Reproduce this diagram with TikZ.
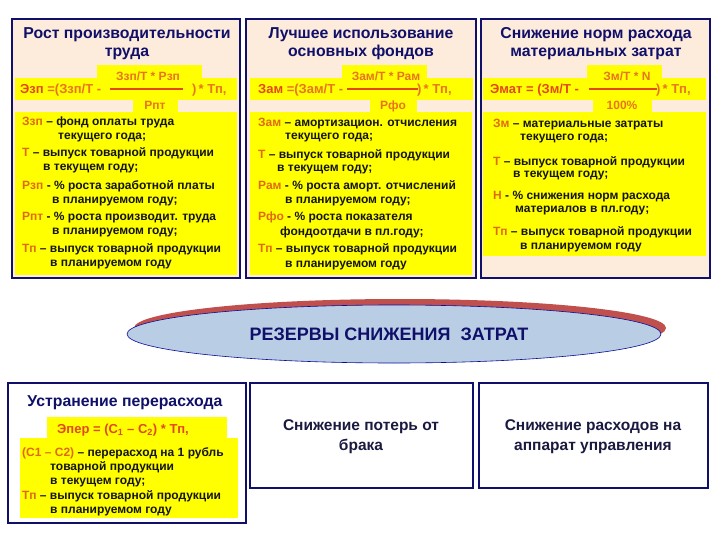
\documentclass[tikz,border=0pt]{standalone}
\usepackage{fontspec}
\setmainfont{Liberation Sans}
\definecolor{navy}{HTML}{10106A}
\definecolor{peach}{HTML}{FDEBDC}
\definecolor{yel}{HTML}{FFFF00}
\definecolor{txt}{HTML}{141414}
\definecolor{fred}{HTML}{E2481A}
\definecolor{forange}{HTML}{E8741E}
\definecolor{vor}{HTML}{E06A10}
\definecolor{ebl}{HTML}{B9CDE5}
\definecolor{esh}{HTML}{C0504D}
\definecolor{btxt}{HTML}{1A1A40}
\newcommand{\vr}[1]{\textcolor{vor}{#1}}
\newcommand{\fo}[1]{\textcolor{forange}{#1}}
\begin{document}
\begin{tikzpicture}[x=1pt,y=-1pt,
  box/.style={draw=navy, line width=2.4pt, inner sep=0, outer sep=0},
  ttl/.style={font=\bfseries\fontsize{15.8}{18}\selectfont, text=navy, align=center, inner sep=0},
  df/.style={font=\bfseries\fontsize{12}{13}\selectfont, text=txt, anchor=base west, inner sep=0},
  fm/.style={font=\bfseries\fontsize{13}{14}\selectfont, text=fred, anchor=base west, inner sep=0},
  fr/.style={font=\bfseries\fontsize{12}{13}\selectfont, text=forange, anchor=base, inner sep=0},
  fline/.style={draw=fred, line width=1.3pt},
  btext/.style={font=\bfseries\fontsize{15.5}{20}\selectfont, text=btxt, align=center, inner sep=0},
]
\useasboundingbox (0,0) rectangle (720,540);
\fill[white] (0,0) rectangle (720,540);

% ---------- top boxes ----------
\node[box, fill=peach, minimum width=228, minimum height=259] (b1) at (126,148.5) {};
\node[box, fill=peach, minimum width=230, minimum height=259] (b2) at (361,148.5) {};
\node[box, fill=peach, minimum width=229, minimum height=259] (b3) at (595.5,148.5) {};

% yellow areas box1
\fill[yel] (15,78) rectangle (237,100);
\fill[yel] (97,65) rectangle (202,78);
\fill[yel] (133,100) rectangle (178,112);
\fill[yel] (15,112) rectangle (237,275);
% yellow areas box2
\fill[yel] (250,78) rectangle (473,100);
\fill[yel] (342,65) rectangle (427,78);
\fill[yel] (370,100) rectangle (417,112);
\fill[yel] (250,112) rectangle (472,275);
% yellow areas box3
\fill[yel] (483,78) rectangle (706,100);
\fill[yel] (587,65) rectangle (662,78);
\fill[yel] (593,100) rectangle (652,112);
\fill[yel] (483,112) rectangle (706,256);

% titles
\node[ttl] (t1) at (127,44) {Рост производительности\\труда};
\node[ttl] (t2) at (361,44) {Лучшее использование\\основных фондов};
\node[ttl] (t3) at (596,44) {Снижение норм расхода\\материальных затрат};

% formula box1
\node[fm] (f1a) at (20,94) {Эзп \fo{=(Ззп/Т -}};
\node[fr] (f1n) at (148,81) {Ззп/Т * Рзп};
\coordinate (f1l) at (110,89); \coordinate (f1r) at (183,89);
\draw[fline] (f1l) -- (f1r);
\node[fr] (f1d) at (155,110) {Рпт};
\node[fm] (f1b) at (192,94) {\fo{)\,* Тп,}};

% formula box2
\node[fm] (f2a) at (258,94) {Зам \fo{=(Зам/Т -}};
\node[fr] (f2n) at (386,81) {Зам/Т * Рам};
\coordinate (f2l) at (347,89); \coordinate (f2r) at (418,89);
\draw[fline] (f2l) -- (f2r);
\node[fr] (f2d) at (393,110) {Рфо};
\node[fm] (f2b) at (417,94) {\fo{)\,* Тп,}};

% formula box3
\node[fm] (f3a) at (490,94) {Эмат = (Зм/Т -};
\node[fr] (f3n) at (627,81) {Зм/Т * N};
\coordinate (f3l) at (589,89); \coordinate (f3r) at (657,89);
\draw[fline] (f3l) -- (f3r);
\node[fr] (f3d) at (622,110) {100\%};
\node[fm] (f3b) at (656,94) {\fo{)\,* Тп,}};

% definitions box1
\node[df] (d11) at (22,126) {\vr{Ззп} – фонд оплаты труда};
\node[df] (d12) at (58,140) {текущего года;};
\node[df] (d13) at (22,157) {\vr{Т} – выпуск товарной продукции};
\node[df] (d14) at (43,171) {в текущем году;};
\node[df] (d15) at (22,190) {\vr{Рзп} - \% роста заработной платы};
\node[df] (d16) at (52,204) {в планируемом году;};
\node[df] (d17) at (22,221) {\vr{Рпт} - \% роста производит. труда};
\node[df] (d18) at (52,235) {в планируемом году;};
\node[df] (d19) at (22,252) {\vr{Тп} – выпуск товарной продукции};
\node[df] (d110) at (50,266) {в планируемом году};

% definitions box2
\node[df] (d21) at (258,127) {\vr{Зам} – амортизацион. отчисления};
\node[df] (d22) at (285,140) {текущего года;};
\node[df] (d23) at (258,159) {\vr{Т} – выпуск товарной продукции};
\node[df] (d24) at (277,172) {в текущем году;};
\node[df] (d25) at (258,190) {\vr{Рам} - \% роста аморт. отчислений};
\node[df] (d26) at (285,204) {в планируемом году;};
\node[df] (d27) at (258,221) {\vr{Рфо} - \% роста показателя};
\node[df] (d28) at (280,236) {фондоотдачи в пл.году;};
\node[df] (d29) at (258,252) {\vr{Тп} – выпуск товарной продукции};
\node[df] (d210) at (285,267) {в планируемом году};

% definitions box3
\node[df] (d31) at (493,128) {\vr{Зм} – материальные затраты};
\node[df] (d32) at (520,141) {текущего года;};
\node[df] (d33) at (493,166) {\vr{Т} – выпуск товарной продукции};
\node[df] (d34) at (513,178) {в текущем году;};
\node[df] (d35) at (493,200) {\vr{Н} - \% снижения норм расхода};
\node[df] (d36) at (515,213) {материалов в пл.году;};
\node[df] (d37) at (493,236) {\vr{Тп} – выпуск товарной продукции};
\node[df] (d38) at (520,249) {в планируемом году};

% ---------- ellipse ----------
\fill[esh] (400,328) ellipse [x radius=266, y radius=29];
\draw[draw=navy!70!blue, line width=0.6pt, fill=ebl] (394,334) ellipse [x radius=267, y radius=29];
\node[font=\bfseries\fontsize{18}{20}\selectfont, text=navy, inner sep=0] (res) at (389,334) {РЕЗЕРВЫ СНИЖЕНИЯ\ \ ЗАТРАТ};

% ---------- bottom boxes ----------
\node[box, fill=white, minimum width=238, minimum height=140] (b4) at (127,453) {};
\fill[yel] (47,417) rectangle (227,440);
\fill[yel] (20,438) rectangle (238,518);
\node[ttl] (t4) at (125,403) {Устранение перерасхода};
\node[fm, anchor=center] (f4) at (123,430) {Эпер = (С\textsubscript{1} – С\textsubscript{2}) * Тп,};
\node[df] (d41) at (22,456) {\vr{(С1 – С2)} – перерасход на 1 рубль};
\node[df] (d42) at (50,470) {товарной продукции};
\node[df] (d43) at (50,484) {в текущем году;};
\node[df] (d44) at (22,499) {\vr{Тп} – выпуск товарной продукции};
\node[df] (d45) at (50,513) {в планируемом году};

\node[box, fill=white, minimum width=223, minimum height=105] (b5) at (361.5,435.5) {};
\node[btext] (t5) at (361,437) {Снижение потерь от\\брака};
\node[box, fill=white, minimum width=229, minimum height=105] (b6) at (593.5,435.5) {};
\node[btext] (t6) at (593,437) {Снижение расходов на\\аппарат управления};
\end{tikzpicture}
\end{document}
